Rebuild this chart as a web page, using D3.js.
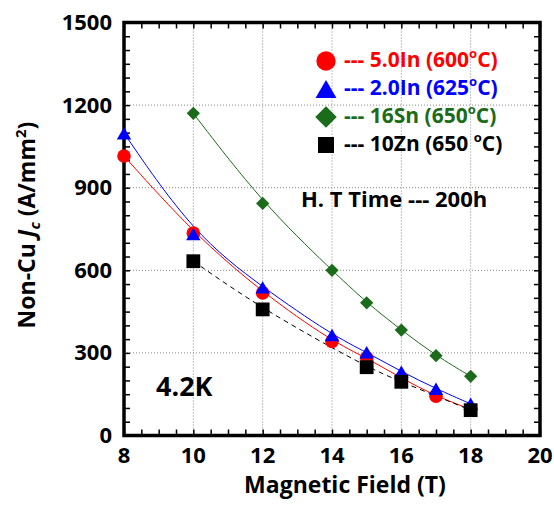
<!DOCTYPE html>
<html>
<head>
<meta charset="utf-8">
<script src="https://cdn.jsdelivr.net/npm/d3@7"></script>
<style>
  body { margin: 0; background: #fff; }
  svg { font-family: "Open Sans", "Liberation Sans", sans-serif; font-weight: bold; }
</style>
</head>
<body>
<svg id="chart" width="554" height="508"></svg>
<script>
// field values (T) and Jc values (A/mm2)
var fieldIn5 = [8, 10, 12, 14, 15, 16, 17, 18]
var jcIn5 = [1015, 735, 518, 342, 282, 208, 143, 95]
var fieldIn2 = [8, 10, 12, 14, 15, 16, 17, 18]
var jcIn2 = [1098, 732, 538, 365, 302, 232, 170, 115]
var fieldSn = [10, 12, 14, 15, 16, 17, 18]
var jcSn = [1170, 843, 600, 482, 383, 290, 215]
var fieldZn = [10, 12, 15, 16, 18]
var jcZn = [633, 458, 248, 195, 92]

var xTicks = [8, 10, 12, 14, 16, 18, 20]
var yTicks = [0, 300, 600, 900, 1200, 1500]

var series = [
	{ name: '5.0In', temp: '600', sep: '', color: '#ff0000', sym: d3.symbolCircle, size: 145, legSize: 295, rot: 0, x: fieldIn5, y: jcIn5, dash: null },
	{ name: '2.0In', temp: '625', sep: '', color: '#0000ff', sym: d3.symbolTriangle, size: 90, legSize: 190, rot: 0, x: fieldIn2, y: jcIn2, dash: null },
	{ name: '16Sn', temp: '650', sep: '', color: '#1a6b1a', sym: d3.symbolSquare, size: 88, legSize: 230, rot: 45, x: fieldSn, y: jcSn, dash: null },
	{ name: '10Zn', temp: '650', sep: ' ', color: '#000000', sym: d3.symbolSquare, size: 190, legSize: 256, rot: 0, x: fieldZn, y: jcZn, dash: '5,4' }
]

var svg = d3.select('#chart')
var pLeft = 124, pRight = 540, pTop = 22.5, pBottom = 435.5

var x = d3.scaleLinear().domain([8, 20]).range([pLeft, pRight])
var y = d3.scaleLinear().domain([0, 1500]).range([pBottom, pTop])

/* dotted grid */
var grid = svg.append('g')
grid.selectAll('line.gx').data(xTicks.slice(1, -1)).enter().append('line')
	.attr('x1', d => x(d)).attr('x2', d => x(d)).attr('y1', pTop).attr('y2', pBottom)
	.attr('stroke', '#888').attr('stroke-width', 1).attr('stroke-dasharray', '1,2')
grid.selectAll('line.gy').data(yTicks.slice(1, -1)).enter().append('line')
	.attr('y1', d => y(d)).attr('y2', d => y(d)).attr('x1', pLeft).attr('x2', pRight)
	.attr('stroke', '#888').attr('stroke-width', 1).attr('stroke-dasharray', '1,2')

/* axes with inward ticks */
var xMinor = d3.range(8, 20.01, 0.5)
var yMinor = d3.range(0, 1500.1, 50)
function noDomain(g) { g.select('.domain').remove() }

svg.append('g').attr('transform', 'translate(0,' + pBottom + ')')
	.call(d3.axisTop(x).tickValues(xMinor).tickSize(6).tickFormat(''))
	.call(noDomain).selectAll('line').attr('stroke-width', 1.5)
svg.append('g').attr('transform', 'translate(0,' + pTop + ')')
	.call(d3.axisBottom(x).tickValues(xMinor).tickSize(6).tickFormat(''))
	.call(noDomain).selectAll('line').attr('stroke-width', 1.5)
svg.append('g').attr('transform', 'translate(' + pLeft + ',0)')
	.call(d3.axisRight(y).tickValues(yMinor).tickSize(6).tickFormat(''))
	.call(noDomain).selectAll('line').attr('stroke-width', 1.5)
svg.append('g').attr('transform', 'translate(' + pRight + ',0)')
	.call(d3.axisLeft(y).tickValues(yMinor).tickSize(6).tickFormat(''))
	.call(noDomain).selectAll('line').attr('stroke-width', 1.5)

svg.append('rect').attr('x', pLeft).attr('y', pTop).attr('width', pRight - pLeft).attr('height', pBottom - pTop)
	.attr('fill', 'none').attr('stroke', '#000').attr('stroke-width', 3.5)

/* tick labels */
svg.selectAll('text.xt').data(xTicks).enter().append('text')
	.attr('x', d => x(d)).attr('y', 463).attr('text-anchor', 'middle')
	.style('font-size', '22px').text(d => d)
svg.selectAll('text.yt').data(yTicks).enter().append('text')
	.attr('x', 112).attr('y', d => y(d) + 7.5).attr('text-anchor', 'end')
	.style('font-size', '22px').text(d => d)

/* axis titles */
svg.append('text').attr('x', 345).attr('y', 493).attr('text-anchor', 'middle')
	.style('font-size', '23px').text('Magnetic Field (T)')
var yt = svg.append('text').attr('transform', 'translate(35,225) rotate(-90)').attr('text-anchor', 'middle')
	.style('font-size', '23px')
yt.append('tspan').text('Non-Cu ')
yt.append('tspan').style('font-style', 'italic').text('J')
yt.append('tspan').style('font-style', 'italic').style('font-size', '15px').attr('dy', 5).text('c')
yt.append('tspan').attr('dy', -5).text(' (A/mm')
yt.append('tspan').style('font-size', '15px').attr('dy', -9).text('2')
yt.append('tspan').attr('dy', 9).text(')')

/* curves and markers */
var line = d3.line().x(d => x(d[0])).y(d => y(d[1])).curve(d3.curveBasis)
function marker(s, size) {
	return d3.symbol().type(s.sym).size(size)()
}
function markerShift(s, size) {
	// centre the triangle on its bounding box rather than its centroid
	return s.sym === d3.symbolTriangle ? Math.sqrt(size / (3 * Math.sqrt(3))) / 2 : 0
}
series.forEach(function(s) {
	var pts = s.x.map((v, i) => [v, s.y[i]])
	svg.append('path').datum(pts).attr('d', line).attr('fill', 'none')
		.attr('stroke', s.color).attr('stroke-width', 1).attr('stroke-dasharray', s.dash)
})
series.forEach(function(s) {
	var pts = s.x.map((v, i) => [v, s.y[i]])
	svg.selectAll(null).data(pts).enter().append('path')
		.attr('d', marker(s, s.size))
		.attr('transform', d => 'translate(' + x(d[0]) + ',' + (y(d[1]) + markerShift(s, s.size)) + ') rotate(' + s.rot + ')')
		.attr('fill', s.color)
})

/* legend */
var legend = svg.append('g')
series.forEach(function(s, i) {
	var base = 67 + i * 28
	legend.append('path').attr('d', marker(s, s.legSize))
		.attr('transform', 'translate(326,' + (base - 6 + markerShift(s, s.legSize)) + ') rotate(' + s.rot + ')').attr('fill', s.color)
	var t = legend.append('text').attr('x', 344).attr('y', base).attr('fill', s.color).style('font-size', '21px')
	t.append('tspan').text('--- ' + s.name + ' (' + s.temp + s.sep)
	t.append('tspan').style('font-size', '13px').attr('dy', -9).text('o')
	t.append('tspan').attr('dy', 9).text('C)')
})

svg.append('text').attr('x', 301).attr('y', 207).style('font-size', '22px').text('H. T Time --- 200h')
svg.append('text').attr('x', 156).attr('y', 396).style('font-size', '27px').text('4.2K')
</script>
</body>
</html>
